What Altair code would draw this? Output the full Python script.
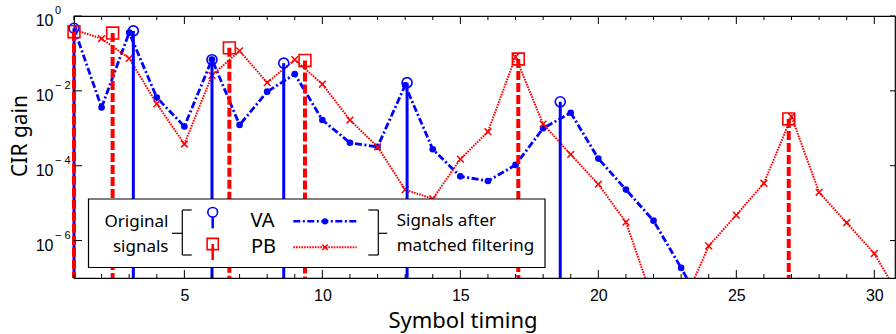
import altair as alt
import pandas as pd

# ---------------- data ----------------
va_stem_x = [1.0, 3.15, 6.0, 8.6, 13.07, 18.62]
va_stem_gain = [0.47, 0.40, 0.068, 0.055, 0.0166, 0.0051]

pb_stem_x = [1.0, 2.4, 6.63, 9.37, 17.1, 26.9]
pb_stem_gain = [0.38, 0.35, 0.141, 0.065, 0.071, 0.00178]

va_mf_x = list(range(1, 25))
va_mf_gain = [0.47, 0.0036, 0.36, 0.0066, 0.00112, 0.069, 0.00123, 0.0095,
              0.028, 0.00166, 0.00041, 0.00032, 0.0141, 0.000275, 5.2e-5,
              3.9e-5, 1.05e-4, 0.0010, 0.0026, 1.55e-4, 2.3e-5, 3.4e-6,
              1.86e-7, 9e-9]

pb_mf_x = list(range(1, 32))
pb_mf_gain = [0.43, 0.25, 0.074, 0.0045, 0.00038, 0.026, 0.117, 0.0166,
              0.068, 0.0151, 0.00166, 0.00032, 2.3e-5, 1.3e-5, 1.5e-4,
              8.1e-4, 0.081, 0.0013, 2.0e-4, 3.2e-5, 3.1e-6, 2.3e-8,
              1.5e-8, 7.2e-7, 4.8e-6, 3.4e-5, 0.00204, 1.95e-5, 3.0e-6,
              4.5e-7, 2.5e-8]

x_tick_labels = [5, 10, 15, 20, 25, 30]
x_minor_ticks = [t for t in range(1, 31) if t % 5 != 0]
y_tick_exp = [0, -2, -4, -6]

BLUE = "#0000ff"
RED = "#ff0000"
W, H = 821, 262
TICK_FONT = "Liberation Sans"
TEXT_FONT = "Noto Sans"
BLUE_DASH = [7, 2.5, 2, 2.5]
RED_DASH = [1.6, 1.1]

va_stem = pd.DataFrame({"x": va_stem_x, "y": va_stem_gain})
pb_stem = pd.DataFrame({"x": pb_stem_x, "y": pb_stem_gain})
va_mf = pd.DataFrame({"x": va_mf_x, "y": va_mf_gain})
pb_mf = pd.DataFrame({"x": pb_mf_x, "y": pb_mf_gain})
major_df = pd.DataFrame({"x": x_tick_labels})
minor_df = pd.DataFrame({"x": x_minor_ticks})
ylab_df = pd.DataFrame({
    "y": [10.0 ** e for e in y_tick_exp],
    "base": ["10"] * len(y_tick_exp),
    "sup": ["0" if e == 0 else "\u2212 " + str(-e) for e in y_tick_exp],
})

x_scale = alt.Scale(domain=[1, 30.75], nice=False, zero=False)
y_scale = alt.Scale(type="log", domain=[1e-7, 1], nice=False)
x_axis = alt.Axis(values=x_tick_labels, ticks=False, domain=False, grid=False,
                  labelFont=TICK_FONT, labelFontSize=16, labelColor="black",
                  labelPadding=9, title=None)
X = alt.X("x:Q", scale=x_scale, axis=x_axis)
Y = alt.Y("y:Q", scale=y_scale, axis=None)

CROSS = "M-1,-1L1,1M-1,1L1,-1"

# ---------------- main series ----------------
va_line = alt.Chart(va_mf).mark_line(
    color=BLUE, strokeWidth=2.8, strokeDash=BLUE_DASH, clip=True
).encode(x=X, y=Y)
va_dots = alt.Chart(va_mf).mark_point(
    shape="circle", filled=True, color=BLUE, size=44, opacity=1, clip=True
).encode(x=X, y=Y)

pb_line = alt.Chart(pb_mf).mark_line(
    color=RED, strokeWidth=2, strokeDash=RED_DASH, clip=True
).encode(x=X, y=Y)
pb_cross = alt.Chart(pb_mf).mark_point(
    shape=CROSS, filled=False, color=RED, size=45, strokeWidth=1.5, opacity=1, clip=True
).encode(x=X, y=Y)

va_stems = alt.Chart(va_stem).mark_rule(color=BLUE, strokeWidth=3).encode(
    x=X, y=Y, y2=alt.value(H))
va_circ = alt.Chart(va_stem).mark_point(
    shape="circle", filled=False, color=BLUE, size=100, strokeWidth=1.6, opacity=1
).encode(x=X, y=Y)

pb_stems = alt.Chart(pb_stem).mark_rule(color=RED, strokeWidth=4, strokeDash=[9, 3]).encode(
    x=X, y=Y, y2=alt.value(H))
pb_sq = alt.Chart(pb_stem).mark_point(
    shape="square", filled=False, color=RED, size=140, strokeWidth=1.6, opacity=1
).encode(x=X, y=Y)

# ---------------- ticks (inward) ----------------
def xticks(df, length):
    bot = alt.Chart(df).mark_rule(color="black", strokeWidth=1).encode(
        x=X, y=alt.value(H), y2=alt.value(H - length))
    top = alt.Chart(df).mark_rule(color="black", strokeWidth=1).encode(
        x=X, y=alt.value(0), y2=alt.value(length))
    return [bot, top]

ytick_l = alt.Chart(ylab_df).mark_rule(color="black", strokeWidth=1).encode(
    y=Y, x=alt.value(0), x2=alt.value(8))
ytick_r = alt.Chart(ylab_df).mark_rule(color="black", strokeWidth=1).encode(
    y=Y, x=alt.value(W), x2=alt.value(W - 5))

ylab_base = alt.Chart(ylab_df).mark_text(
    align="right", baseline="middle", dy=5, font=TICK_FONT, fontSize=16, color="black"
).encode(y=Y, x=alt.value(-20.5), text="base:N")
ylab_sup = alt.Chart(ylab_df).mark_text(
    align="left", baseline="middle", dy=-5, font=TICK_FONT, fontSize=11, color="black"
).encode(y=Y, x=alt.value(-19), text="sup:N")

# ---------------- titles ----------------
y_title = alt.Chart().mark_text(
    text="CIR gain", angle=270, align="center", baseline="middle",
    font=TEXT_FONT, fontSize=21, color="black"
).encode(x=alt.value(-53), y=alt.value(120))
x_title = alt.Chart().mark_text(
    text="Symbol timing", align="center", baseline="alphabetic",
    font=TEXT_FONT, fontSize=22, color="black"
).encode(x=alt.value(389), y=alt.value(312))

# ---------------- custom legend ----------------
def seg(x1, y1, x2, y2, color="black", width=1.2, dash=None):
    kw = dict(color=color, strokeWidth=width)
    if dash:
        kw["strokeDash"] = dash
    return alt.Chart().mark_rule(**kw).encode(
        x=alt.value(x1), y=alt.value(y1), x2=alt.value(x2), y2=alt.value(y2))

def label(txt, x, y, size, align="left"):
    return alt.Chart().mark_text(
        text=txt, align=align, baseline="middle", font=TEXT_FONT,
        fontSize=size, color="black"
    ).encode(x=alt.value(x), y=alt.value(y))

def sym(shape, x, y, color, size, filled=False, sw=1.6):
    return alt.Chart().mark_point(
        shape=shape, filled=filled, color=color, size=size, strokeWidth=sw, opacity=1
    ).encode(x=alt.value(x), y=alt.value(y))

legend_box = alt.Chart().mark_rect(
    fill="white", stroke="black", strokeWidth=1.2
).encode(x=alt.value(14.5), x2=alt.value(471), y=alt.value(183), y2=alt.value(251.5))

legend = [
    legend_box,
    label("Original", 94.5, 205.5, 17, "right"),
    label("signals", 94.5, 230.5, 17, "right"),
    seg(98, 217.3, 108.3, 217.3),
    seg(108.3, 194, 108.3, 239),
    seg(108.3, 194, 117.7, 194),
    seg(108.3, 239, 117.7, 239),
    seg(138.7, 201.5, 138.7, 212.3, BLUE, 2.5),
    sym("circle", 138.7, 196.3, BLUE, 95),
    seg(138.7, 228, 138.7, 244, RED, 2.5),
    sym("square", 138.7, 228, RED, 125),
    label("VA", 176.5, 205, 20),
    label("PB", 177, 231.3, 20),
    seg(219.3, 205.3, 282.7, 205.3, BLUE, 2.5, BLUE_DASH),
    sym("circle", 251, 205.3, BLUE, 40, True),
    seg(219.3, 231.3, 282.7, 231.3, RED, 2, RED_DASH),
    sym(CROSS, 251, 231.3, RED, 30, False, 1.4),
    seg(304.3, 194, 304.3, 239),
    seg(294.3, 194, 304.3, 194),
    seg(294.3, 239, 304.3, 239),
    seg(304.3, 217.3, 313.3, 217.3),
    label("Signals after", 322.7, 205, 17),
    label("matched filtering", 322.7, 229.7, 17),
]

layers = [va_line, pb_line, va_dots, pb_cross, va_stems, va_circ, pb_stems, pb_sq]
layers += xticks(minor_df, 4) + xticks(major_df, 8)
layers += [ytick_l, ytick_r, ylab_base, ylab_sup, y_title, x_title]
layers += legend

chart = alt.layer(*layers).properties(
    width=W, height=H,
    autosize=alt.AutoSizeParams(type="none"),
    padding={"left": 74, "top": 16, "right": 1, "bottom": 56},
).configure_view(stroke="black", strokeWidth=1.2)

chart.save("out.html", embed_options={"renderer": "svg", "actions": False})
